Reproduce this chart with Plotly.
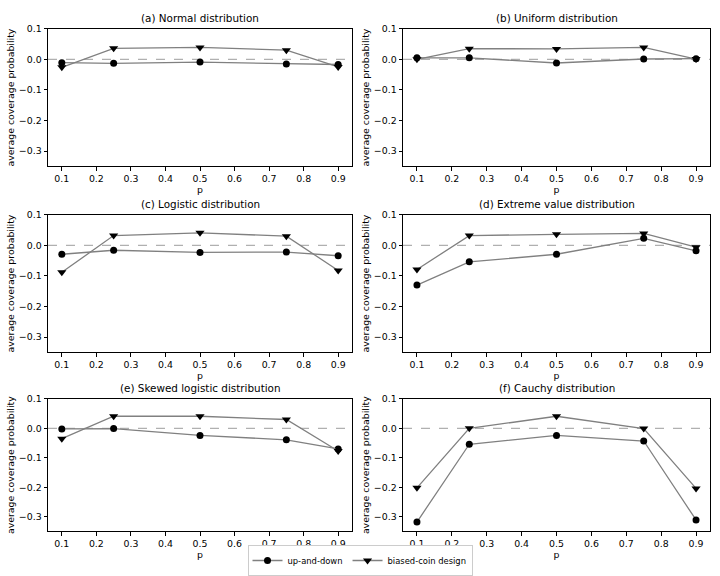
import plotly.graph_objects as go

p = [0.1, 0.25, 0.5, 0.75, 0.9]

titles = [
    "(a) Normal distribution",
    "(b) Uniform distribution",
    "(c) Logistic distribution",
    "(d) Extreme value distribution",
    "(e) Skewed logistic distribution",
    "(f) Cauchy distribution",
]

up_and_down = [
    [-0.011, -0.013, -0.009, -0.015, -0.017],
    [0.005, 0.005, -0.012, 0.001, 0.002],
    [-0.029, -0.016, -0.023, -0.022, -0.034],
    [-0.130, -0.054, -0.029, 0.023, -0.018],
    [-0.002, -0.001, -0.024, -0.039, -0.070],
    [-0.318, -0.054, -0.024, -0.043, -0.311],
]

biased_coin = [
    [-0.026, 0.036, 0.039, 0.030, -0.025],
    [0.000, 0.035, 0.034, 0.039, 0.001],
    [-0.088, 0.032, 0.041, 0.030, -0.082],
    [-0.079, 0.032, 0.036, 0.039, -0.006],
    [-0.035, 0.041, 0.041, 0.030, -0.077],
    [-0.202, 0.000, 0.041, -0.001, -0.204],
]

x_ticks = [0.1, 0.2, 0.3, 0.4, 0.5, 0.6, 0.7, 0.8, 0.9]
y_ticks = [0.1, 0.0, -0.1, -0.2, -0.3]

W, H = 720, 576
col_px = [(48, 352), (403, 710)]
row_px = [(23, 162), (211, 350), (397, 531)]

FONT = "DejaVu Sans"
TS = 9.4
fig = go.Figure()
layout = {}
for i in range(6):
    r, c = divmod(i, 2)
    n = i + 1
    xa = "x" if n == 1 else f"x{n}"
    ya = "y" if n == 1 else f"y{n}"
    xd = [col_px[c][0] / W, col_px[c][1] / W]
    yd = [1 - row_px[r][1] / H, 1 - row_px[r][0] / H]
    axis_common = dict(
        showline=True, mirror=True, linecolor="black", linewidth=1,
        ticks="outside", ticklen=3.5, tickwidth=1, tickcolor="black",
        showgrid=False, zeroline=False,
        tickfont=dict(family=FONT, size=TS, color="black"),
    )
    layout["xaxis" if n == 1 else f"xaxis{n}"] = dict(
        domain=xd, anchor=ya, range=[0.06, 0.94], tickvals=x_ticks,
        tickformat=".1f",
        title=dict(text="p", font=dict(family=FONT, size=TS, color="black"), standoff=3),
        **axis_common,
    )
    layout["yaxis" if n == 1 else f"yaxis{n}"] = dict(
        domain=yd, anchor=xa, range=[-0.35, 0.1], tickvals=y_ticks,
        tickformat=".1f",
        title=dict(text="average coverage probability",
                   font=dict(family=FONT, size=TS, color="black"), standoff=2),
        **axis_common,
    )
    fig.add_trace(go.Scatter(
        x=p, y=up_and_down[i], mode="lines+markers", name="up-and-down",
        line=dict(color="#808080", width=1.3),
        marker=dict(symbol="circle", size=7, color="black"),
        xaxis=xa, yaxis=ya, showlegend=(i == 0), legendgroup="ud",
    ))
    fig.add_trace(go.Scatter(
        x=p, y=biased_coin[i], mode="lines+markers", name="biased-coin design",
        line=dict(color="#808080", width=1.3),
        marker=dict(symbol="triangle-down", size=8, color="black"),
        xaxis=xa, yaxis=ya, showlegend=(i == 0), legendgroup="bc",
    ))
    fig.add_shape(type="line", xref=f"{xa} domain", yref=ya, x0=0, x1=1, y0=0, y1=0,
                  line=dict(color="#b0b0b0", width=1.2, dash="dash"), layer="below")
    fig.add_annotation(text=titles[i], xref=f"{xa} domain", yref="paper",
                       x=0.5, y=1 - (row_px[r][0] - 3) / H, yanchor="bottom",
                       showarrow=False, font=dict(family=FONT, size=10.4, color="black"))

fig.update_layout(
    **layout,
    width=W, height=H,
    margin=dict(l=0, r=0, t=0, b=0),
    paper_bgcolor="white", plot_bgcolor="white",
    font=dict(family=FONT, size=TS, color="black"),
    showlegend=True,
    legend=dict(orientation="h", x=0.5, xanchor="center", y=0.0, yanchor="bottom",
                bordercolor="#cccccc", borderwidth=1, bgcolor="white",
                itemwidth=30, tracegroupgap=0,
                font=dict(family=FONT, size=8.4, color="black")),
)

fig.write_html("out.html", config={"displayModeBar": False},
               post_script="document.body.style.margin='0';document.body.style.padding='0';")
